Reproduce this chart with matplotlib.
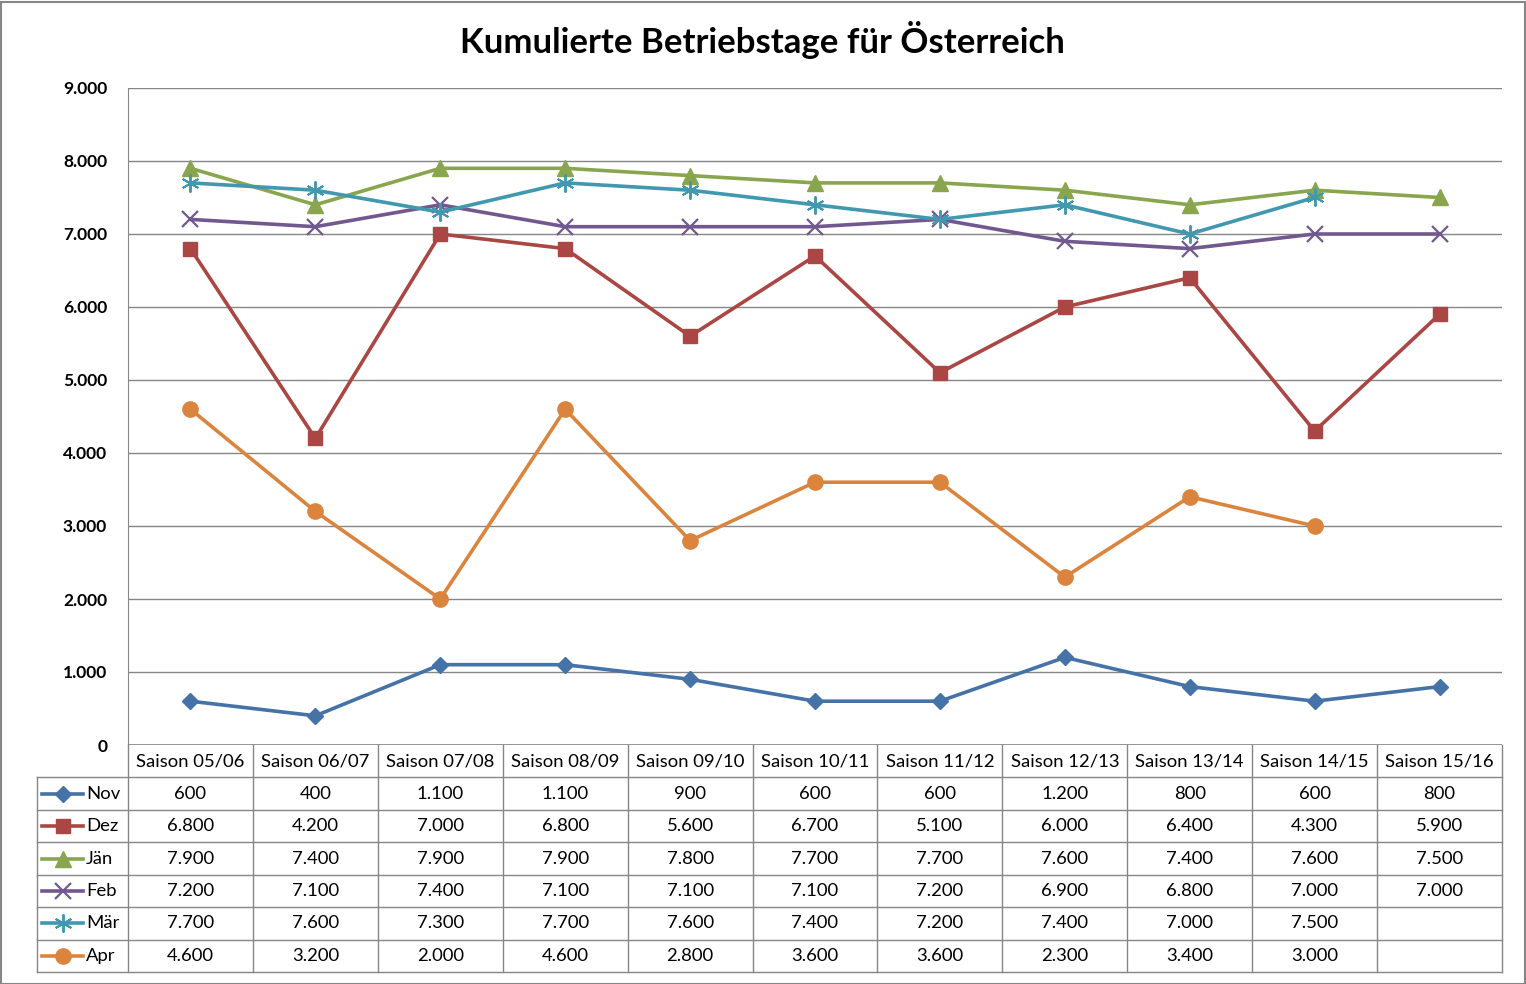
import numpy as np
import matplotlib
matplotlib.use("Agg")
import matplotlib.pyplot as plt
from matplotlib.patches import Rectangle

plt.rcParams['font.family'] = ['Lato', 'DejaVu Sans']

seasons = ["Saison 05/06", "Saison 06/07", "Saison 07/08", "Saison 08/09", "Saison 09/10",
           "Saison 10/11", "Saison 11/12", "Saison 12/13", "Saison 13/14", "Saison 14/15", "Saison 15/16"]
series_names = ["Nov", "Dez", "Jän", "Feb", "Mär", "Apr"]
nov = [600, 400, 1100, 1100, 900, 600, 600, 1200, 800, 600, 800]
dez = [6800, 4200, 7000, 6800, 5600, 6700, 5100, 6000, 6400, 4300, 5900]
jan = [7900, 7400, 7900, 7900, 7800, 7700, 7700, 7600, 7400, 7600, 7500]
feb = [7200, 7100, 7400, 7100, 7100, 7100, 7200, 6900, 6800, 7000, 7000]
mar = [7700, 7600, 7300, 7700, 7600, 7400, 7200, 7400, 7000, 7500, None]
apr = [4600, 3200, 2000, 4600, 2800, 3600, 3600, 2300, 3400, 3000, None]
series = [nov, dez, jan, feb, mar, apr]
yticks = [0, 1000, 2000, 3000, 4000, 5000, 6000, 7000, 8000, 9000]
title = "Kumulierte Betriebstage für Österreich"

colors = ["#4572A7", "#AA4643", "#89A54E", "#71588F", "#4198AF", "#DB843D"]
markers = ["D", "s", "^", "x", (6, 2, 0), "o"]
msizes = [8, 10, 11, 11, 13, 11]
mews = [1, 1, 1, 1.6, 1.4, 1]

def fmt(v):
    if v is None:
        return ""
    return f"{v:,}".replace(",", ".")

W, H = 1526, 984
fig = plt.figure(figsize=(W / 100, H / 100), dpi=100)
fig.patch.set_facecolor("white")
fig.patches.append(Rectangle((0.5 / W, 0.5 / H), 1 - 2 / W, 1 - 2 / H, transform=fig.transFigure,
                             fill=False, edgecolor="#868686", linewidth=1.5))

x0, x1 = 128, 1502
ytop, ybot = 88, 745
ax = fig.add_axes([x0 / W, 1 - ybot / H, (x1 - x0) / W, (ybot - ytop) / H])
n = len(seasons)
x = np.arange(n)
for vals, c, m, ms, mw in zip(series, colors, markers, msizes, mews):
    y = np.array([np.nan if v is None else v for v in vals], dtype=float)
    ax.plot(x, y, color=c, lw=2.6, marker=m, markersize=ms, markeredgewidth=mw,
            markerfacecolor=c, markeredgecolor=c, solid_joinstyle="round", zorder=3)
ax.set_xlim(-0.5, n - 0.5)
ax.set_ylim(0, 9000)
ax.set_yticks(yticks)
ax.set_yticklabels([fmt(v) for v in yticks], fontsize=12.5, fontweight="bold")
ax.yaxis.grid(True, color="#868686", lw=1)
ax.set_axisbelow(True)
ax.set_xticks([])
ax.tick_params(axis="y", length=0, pad=15)
for s in ["top", "right", "bottom"]:
    ax.spines[s].set_visible(False)
ax.spines["left"].set_color("#868686")
ax.axhline(0, color="#868686", lw=1.2, zorder=2)

fig.text(762 / W, 1 - 40 / H, title, ha="center", va="center", fontsize=25, fontweight="bold")

# data table
tl, tb = 37, 972
unit = (x1 - x0) / n
tax = fig.add_axes([tl / W, 1 - tb / H, (x1 - tl) / W, (tb - ybot) / H])
xl = -0.5 - (x0 - tl) / unit
tax.set_xlim(xl, n - 0.5)
tax.set_ylim(7, 0)
tax.axis("off")
gc = "#868686"
for i in range(n + 1):
    tax.plot([i - 0.5, i - 0.5], [0, 7], color=gc, lw=1, clip_on=False)
tax.plot([xl, xl], [1, 7], color=gc, lw=1, clip_on=False)
for r in range(1, 8):
    tax.plot([xl, n - 0.5], [r, r], color=gc, lw=1, clip_on=False)
fs = 13.3
for i, s in enumerate(seasons):
    tax.text(i, 0.5, s, ha="center", va="center", fontsize=fs)
for r, (name, vals, c, m, ms, mw) in enumerate(zip(series_names, series, colors, markers, msizes, mews)):
    yy = r + 1.5
    for i, v in enumerate(vals):
        tax.text(i, yy, fmt(v), ha="center", va="center", fontsize=fs)
    lx0 = xl + (42 - tl) / unit
    lx1 = xl + (83 - tl) / unit
    tax.plot([lx0, lx1], [yy, yy], color=c, lw=2.6, clip_on=False)
    tax.plot([(lx0 + lx1) / 2], [yy], color=c, marker=m, markersize=ms, markeredgewidth=mw,
             markerfacecolor=c, markeredgecolor=c, clip_on=False)
    tax.text(xl + (86 - tl) / unit, yy, name, ha="left", va="center", fontsize=fs)

fig.savefig("out.png", dpi=100)
